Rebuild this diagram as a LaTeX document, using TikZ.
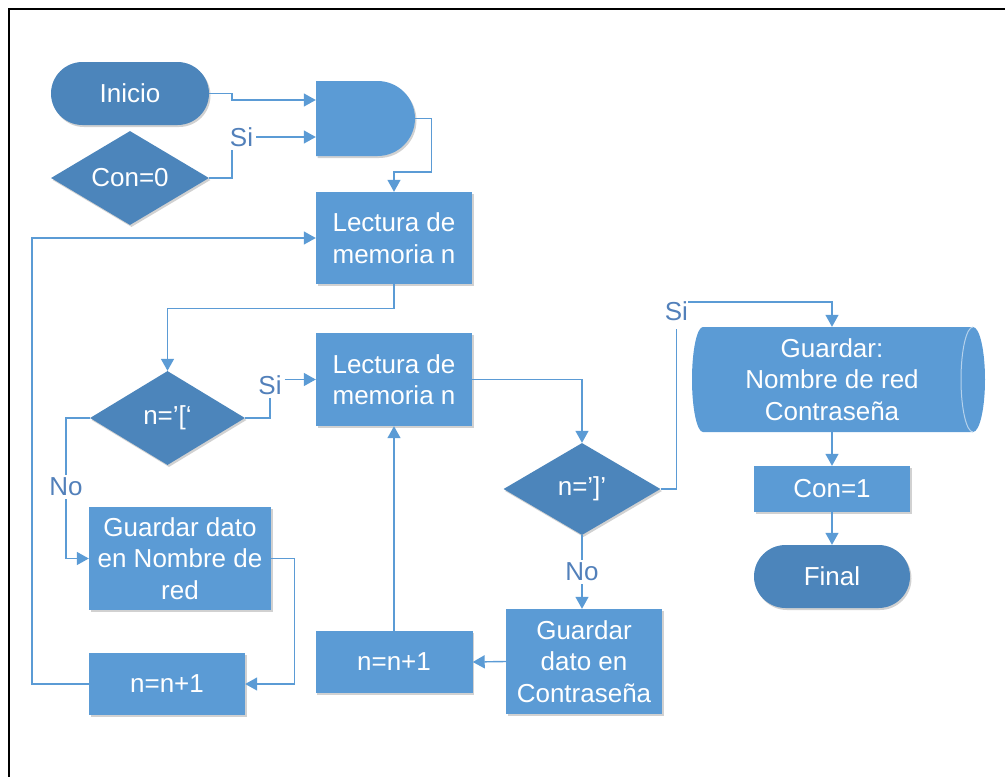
\documentclass[tikz,border=0pt]{standalone}
\usepackage{fontspec}
\setmainfont{Liberation Sans}
\usetikzlibrary{shapes.geometric,shapes.misc,arrows.meta,calc,shadows,backgrounds}

\definecolor{boxblue}{RGB}{91,155,213}
\definecolor{darkblue}{RGB}{76,133,187}
\definecolor{linkblue}{RGB}{91,155,213}
\definecolor{labelblue}{RGB}{82,128,186}

\tikzset{
  txt/.style={font=\fontsize{26}{31.5}\selectfont, text=white, align=center, inner sep=0pt},
  softshadow/.style={drop shadow={shadow xshift=1.5pt, shadow yshift=-2pt, opacity=0.18, fill=black}},
  procbox/.style={txt, softshadow, rectangle, fill=boxblue},
  term/.style={txt, softshadow, rounded rectangle, fill=darkblue},
  decision/.style={txt, softshadow, diamond, aspect=1.67, fill=darkblue},
  gatebox/.style={txt, softshadow, rounded rectangle, rounded rectangle left arc=none, fill=boxblue},
  link/.style={draw=linkblue, line width=1.4pt, -{Triangle[length=12pt,width=13pt]}},
  plain/.style={draw=linkblue, line width=1.4pt},
  lbl/.style={font=\fontsize{26}{31.5}\selectfont, text=labelblue, inner sep=0pt, outer sep=3pt}
}

\begin{document}
\begin{tikzpicture}[x=1pt, y=-1pt]
  \useasboundingbox (0,0) rectangle (1005,777);

  % frame
  \draw[line width=2pt, black] (9,778) -- (9,9) -- (1006,9);

  % start and join
  \node[term, minimum width=158pt, minimum height=63pt] (inicio) at (130,93.5) {Inicio};
  \node[decision, minimum width=158pt, minimum height=94pt] (con0) at (130,178) {Con=0};
  \node[gatebox, minimum width=99pt, minimum height=75pt] (gate) at (365.5,118.5) {};

  % first read
  \node[procbox, minimum width=156pt, minimum height=92pt] (lect1) at (394,238) {Lectura de\\memoria n};

  % network name branch
  \node[decision, minimum width=155pt, minimum height=94pt] (d1) at (167.5,418) {n=’[‘};
  \node[procbox, minimum width=182pt, minimum height=103pt] (g1) at (180,558.5) {Guardar dato\\en Nombre de\\red};
  \node[procbox, minimum width=156pt, minimum height=62pt] (n1) at (167,684) {n=n+1};

  % password branch
  \node[procbox, minimum width=156pt, minimum height=93pt] (lect2) at (394,379.5) {Lectura de\\memoria n};
  \node[decision, minimum width=157pt, minimum height=92pt] (d2) at (582,489) {n=’]’};
  \node[procbox, minimum width=156pt, minimum height=105pt] (g2) at (584,661.5) {Guardar\\dato en\\Contraseña};
  \node[procbox, minimum width=157pt, minimum height=62pt] (n2) at (394,662) {n=n+1};

  % storage and end
  \node[txt, minimum width=260pt, minimum height=105pt] (store) at (832,379.5) {Guardar:\\Nombre de red\\Contraseña};
  \begin{scope}[on background layer]
    \fill[boxblue] (973,327) -- (703,327)
      arc[start angle=90, end angle=270, x radius=11pt, y radius=52.5pt]
      -- (973,432)
      arc[start angle=-90, end angle=90, x radius=12pt, y radius=52.5pt] -- cycle;
    \draw[white!55!boxblue, line width=1pt] (973,327)
      arc[start angle=90, end angle=270, x radius=12pt, y radius=52.5pt];
  \end{scope}
  \node[procbox, minimum width=156pt, minimum height=46pt] (con1) at (832,489) {Con=1};
  \node[term, minimum width=156pt, minimum height=63pt] (final) at (832,576.5) {Final};

  % branch labels
  \node[lbl] (si1) at (241.5,137) {Si};
  \node[lbl] (si2) at (270,385) {Si};
  \node[lbl, anchor=north east, outer sep=0pt] (si3) at (688,302) {Si};
  \node[lbl] (no1) at (66,487) {No};
  \node[lbl] (no2) at (582,572) {No};

  % connectors
  \draw[link] (inicio.east) -| (232,100) -- (gate.west |- 232,100);
  \draw[plain] (con0.east) -| ([xshift=-9.5pt]si1.south);
  \draw[link] (si1.east) -- (gate.west |- si1.east);
  \draw[link] (gate.east) -- ++(16,0) |- ($(lect1.north)+(0,-20)$) -- (lect1.north);
  \draw[link] (n1.west) -- (n1.west -| 32,0) |- (lect1.west);
  \draw[link] (lect1.south) -- ++(0,24) -| (d1.north);
  \draw[plain] (d1.east) -| (si2.south);
  \draw[link] (si2.east |- lect2.west) -- (lect2.west);
  \draw[plain] (d1.west) -| (no1.north);
  \draw[link] (no1.south) |- (g1.west);
  \draw[link] (g1.east) -- ++(23,0) |- (n1.east);
  \draw[link] (lect2.east) -| (d2.north);
  \draw[plain] (d2.east) -| ([yshift=-8pt]si3.south);
  \draw[link] (si3.north east) -| (store.north);
  \draw[link] (store.south) -- (con1.north);
  \draw[link] (con1.south) -- (final.north);
  \draw[plain] (d2.south) -- (no2.north);
  \draw[link] (no2.south) -- (g2.north -| no2.south);
  \draw[link] (g2.west) -- (n2.east);
  \draw[link] (n2.north) -- (lect2.south);
\end{tikzpicture}
\end{document}
